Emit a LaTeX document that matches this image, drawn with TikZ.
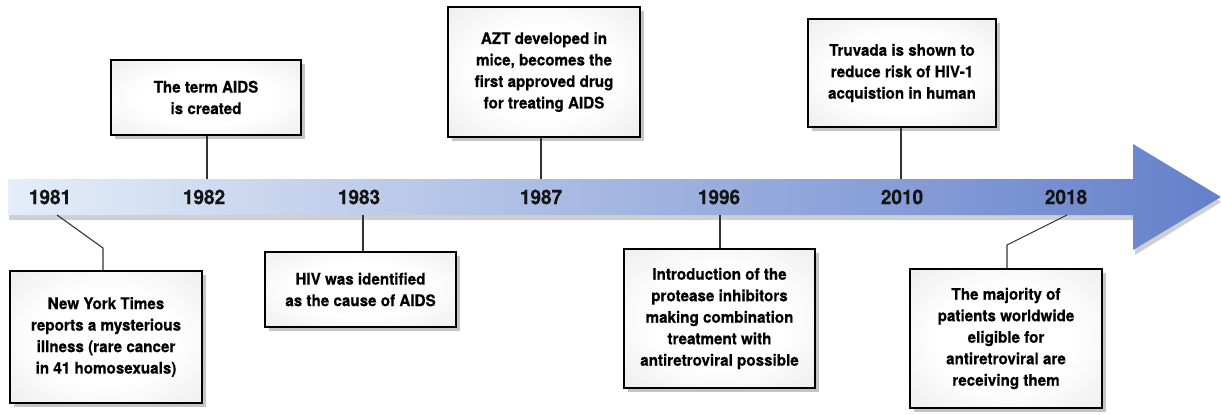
\documentclass[tikz,border=0pt]{standalone}
\usepackage{fontspec}
\setmainfont{TeX Gyre Heros}
\newfontfamily\labelfont[FakeBold=0.45,FakeStretch=0.95]{TeX Gyre Heros}
\usetikzlibrary{shadows}
\definecolor{bandleft}{RGB}{228,237,248}
\definecolor{bandright}{RGB}{100,128,202}
\definecolor{bandshadow}{RGB}{205,207,211}
\pgfdeclareradialshading{boxglow}{\pgfpoint{0bp}{0bp}}{%
  color(0bp)=(white); color(18bp)=(white); color(36bp)=(black!7);
  color(50bp)=(black!15); color(75bp)=(black!20)}
\begin{document}
\begin{tikzpicture}[x=1pt,y=-1pt,
  event/.style={draw=black, line width=1.7pt, shading=boxglow, align=center,
    font=\labelfont\bfseries\fontsize{16}{21.5}\selectfont, text=black, inner sep=0pt,
    drop shadow={shadow xshift=4pt, shadow yshift=-4pt, fill=black!30, opacity=0.75}},
  year/.style={font=\labelfont\bfseries\fontsize{20}{22}\selectfont, text=black!92},
  link/.style={draw=black!80, line width=1.1pt}]

\useasboundingbox (0,0) rectangle (1221,415);

% timeline arrow with its soft shadow
\fill[bandshadow] (9,184) -- (1135,184) -- (1135,149) -- (1221,202)
  -- (1135,255) -- (1135,220) -- (9,220) -- cycle;
\shade[left color=bandleft, right color=bandright]
  (8,179) -- (1133,179) -- (1133,144) -- (1221,197)
  -- (1133,250) -- (1133,215) -- (8,215) -- cycle;

% years
\node[year] (y81) at (50,197) {1981};
\node[year] (y82) at (204,197) {1982};
\node[year] (y83) at (359,197) {1983};
\node[year] (y87) at (541,197) {1987};
\node[year] (y96) at (719,197) {1996};
\node[year] (y10) at (902,197) {2010};
\node[year] (y18) at (1066,197) {2018};

% attachment points on the band
\coordinate (a81) at (57,215);
\coordinate (a82) at (207,179);
\coordinate (a83) at (363,215);
\coordinate (a87) at (541,179);
\coordinate (a96) at (720,215);
\coordinate (a10) at (901,179);
\coordinate (a18) at (1067,215);
\coordinate (k81) at (103,248);
\coordinate (k18) at (1007,245);

% event boxes
\node[event, minimum width=192pt, minimum height=132pt] (e81) at (106,337)
  {New York Times\\reports a mysterious\\illness (rare cancer\\in 41 homosexuals)};
\node[event, minimum width=190pt, minimum height=75pt] (e82) at (206,97.5)
  {The term AIDS\\is created};
\node[event, minimum width=191pt, minimum height=75pt] (e83) at (360.5,289.5)
  {HIV was identified\\as the cause of AIDS};
\node[event, minimum width=192pt, minimum height=130pt] (e87) at (544,72)
  {AZT developed in\\mice, becomes the\\first approved drug\\for treating AIDS};
\node[event, minimum width=191pt, minimum height=139pt] (e96) at (719.5,318.5)
  {Introduction of the\\protease inhibitors\\making combination\\treatment with\\antiretroviral possible};
\node[event, minimum width=188pt, minimum height=108pt] (e10) at (902,73)
  {Truvada is shown to\\reduce risk of HIV-1\\acquistion in human};
\node[event, minimum width=192pt, minimum height=139pt] (e18) at (1006,338.5)
  {The majority of\\patients worldwide\\eligible for\\antiretroviral are\\receiving them};

% connectors
\draw[link] (e81.north -| k81) -- (k81) -- (a81);
\draw[link] (e82.south -| a82) -- (a82);
\draw[link] (e83.north -| a83) -- (a83);
\draw[link] (e87.south -| a87) -- (a87);
\draw[link] (e96.north -| a96) -- (a96);
\draw[link] (e10.south -| a10) -- (a10);
\draw[link] (e18.north -| k18) -- (k18) -- (a18);
\end{tikzpicture}
\end{document}
